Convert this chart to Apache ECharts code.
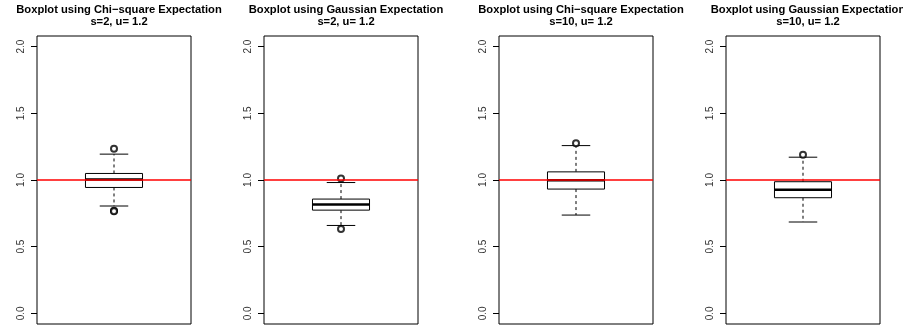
<!DOCTYPE html>
<html>
<head>
<meta charset="utf-8">
<script src="https://cdn.jsdelivr.net/npm/echarts@6/dist/echarts.min.js"></script>
<style>
  html, body { margin: 0; padding: 0; background: #fff; }
  #chart { width: 903px; height: 330px; }
</style>
</head>
<body>
<div id="chart"></div>
<script>
// Panel headings (two lines each)
const panelTitles = [
  'Boxplot using Chi\u2212square Expectation',
  'Boxplot using Gaussian Expectation',
  'Boxplot using Chi\u2212square Expectation',
  'Boxplot using Gaussian Expectation'
];
const panelSubtitles = ['s=2, u= 1.2', 's=2, u= 1.2', 's=10, u= 1.2', 's=10, u= 1.2'];

// Five-number summaries: [lower whisker, Q1, median, Q3, upper whisker]
const chiS2 = [0.805, 0.944, 1.003, 1.049, 1.194];
const gaussS2 = [0.659, 0.774, 0.817, 0.857, 0.981];
const chiS10 = [0.737, 0.932, 0.998, 1.061, 1.258];
const gaussS10 = [0.685, 0.867, 0.927, 0.987, 1.171];
const boxStats = [chiS2, gaussS2, chiS10, gaussS10];

// Points beyond the whiskers
const chiS2Out = [1.234, 0.770, 0.765];
const gaussS2Out = [1.011, 0.632];
const chiS10Out = [1.276];
const gaussS10Out = [1.189];
const outliers = [chiS2Out, gaussS2Out, chiS10Out, gaussS10Out];

// Y axis ticks and the reference level
const yTicks = [0, 0.5, 1, 1.5, 2];
const refLevel = 1;

// Plot-area layout for each of the four panels (pixels)
const panelLefts = [37, 264, 499, 726];
const panelWidth = 154;
const panelTop = 36;
const panelHeight = 288;

// R-style extended ranges: 4% padding on each side
const yMin = -0.08, yMax = 2.08;
const xMin = 0.46, xMax = 1.54;
const boxHalf = 0.2, stapleHalf = 0.1;

const chart = echarts.init(document.getElementById('chart'), null, { renderer: 'canvas' });

function renderBox(params, api) {
  const x = api.value(0);
  const lo = api.value(1), q1 = api.value(2), med = api.value(3), q3 = api.value(4), hi = api.value(5);
  const c = (xx, yy) => api.coord([xx, yy]);
  const line = (a, b, style) => ({
    type: 'line',
    shape: { x1: a[0], y1: a[1], x2: b[0], y2: b[1] },
    style: Object.assign({ stroke: '#000', lineWidth: 1 }, style || {})
  });
  const tl = c(x - boxHalf, q3), br = c(x + boxHalf, q1);
  return {
    type: 'group',
    children: [
      line(c(x, q3), c(x, hi), { lineDash: [3, 3] }),
      line(c(x, q1), c(x, lo), { lineDash: [3, 3] }),
      line(c(x - stapleHalf, hi), c(x + stapleHalf, hi)),
      line(c(x - stapleHalf, lo), c(x + stapleHalf, lo)),
      {
        type: 'rect',
        shape: { x: tl[0], y: tl[1], width: br[0] - tl[0], height: br[1] - tl[1] },
        style: { fill: '#fff', stroke: '#000', lineWidth: 1 }
      },
      line(c(x - boxHalf, med), c(x + boxHalf, med), { lineWidth: 2.5 })
    ]
  };
}

const grids = [], xAxes = [], yAxes = [], series = [], titles = [];
for (let i = 0; i < 4; i++) {
  grids.push({
    left: panelLefts[i], top: panelTop, width: panelWidth, height: panelHeight,
    show: true, borderColor: '#000', borderWidth: 1, backgroundColor: 'transparent'
  });
  xAxes.push({
    gridIndex: i, type: 'value', min: xMin, max: xMax, show: false
  });
  yAxes.push({
    gridIndex: i, type: 'value', min: yMin, max: yMax,
    axisLine: { show: false },
    splitLine: { show: false },
    axisTick: { show: true, customValues: yTicks, length: 6, lineStyle: { color: '#000' } },
    axisLabel: {
      customValues: yTicks, rotate: 90, margin: 11,
      fontFamily: 'Liberation Sans', fontSize: 10, color: '#333',
      formatter: v => v.toFixed(1)
    }
  });
  titles.push({
    text: panelTitles[i] + '\n' + panelSubtitles[i],
    left: panelLefts[i] + panelWidth / 2, top: -1,
    textAlign: 'center',
    textStyle: {
      fontFamily: 'Liberation Sans', fontWeight: 'bold', fontSize: 11.2,
      color: '#000', lineHeight: 12
    }
  });
  series.push({
    type: 'custom', xAxisIndex: i, yAxisIndex: i, z: 2,
    renderItem: renderBox,
    encode: { x: 0, y: [1, 2, 3, 4, 5] },
    data: [[1].concat(boxStats[i])],
    silent: true
  });
  series.push({
    type: 'scatter', xAxisIndex: i, yAxisIndex: i, z: 3,
    symbol: 'emptyCircle', symbolSize: 6,
    itemStyle: { color: '#000', borderColor: '#000', borderWidth: 1.2 },
    data: outliers[i].map(v => [1, v]),
    silent: true,
    markLine: {
      silent: true, symbol: 'none', label: { show: false },
      lineStyle: { color: '#ff0000', width: 1.5, type: 'solid' },
      emphasis: { disabled: true },
      data: [{ yAxis: refLevel }]
    }
  });
}

chart.setOption({
  animation: false,
  backgroundColor: '#fff',
  title: titles,
  grid: grids,
  xAxis: xAxes,
  yAxis: yAxes,
  series: series
});
</script>
</body>
</html>
